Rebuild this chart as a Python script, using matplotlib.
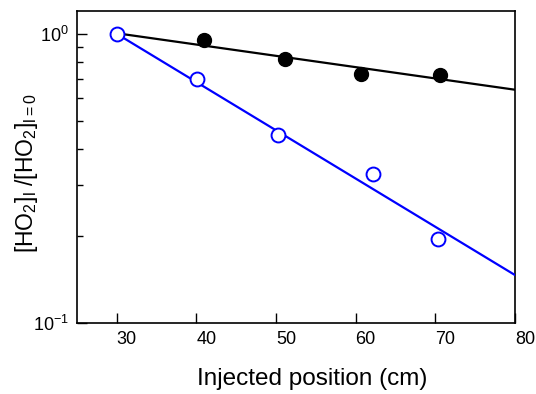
import matplotlib
matplotlib.use('Agg')
import matplotlib.pyplot as plt
import matplotlib.transforms as mtransforms
from matplotlib.ticker import LogLocator, FixedLocator
import numpy as np

plt.rcParams['font.family'] = ['Liberation Sans', 'DejaVu Sans']
plt.rcParams['mathtext.fontset'] = 'custom'
plt.rcParams['mathtext.rm'] = 'Liberation Sans'
plt.rcParams['mathtext.it'] = 'Liberation Sans:italic'

# filled points (black)
black_x = [40.9, 51.1, 60.6, 70.6]
black_y = [0.953, 0.820, 0.727, 0.723]

# open points (blue)
blue_x = [30.0, 40.1, 50.3, 62.2, 70.3]
blue_y = [1.0, 0.699, 0.446, 0.327, 0.196]

# fitted lines, end points
fit_x = [30, 80]
black_fit = [1.005, 0.641]
blue_fit = [1.0, 0.1465]

xticks = [30, 40, 50, 60, 70, 80]

fig = plt.figure(figsize=(5.36, 3.94), dpi=100)
ax = fig.add_axes([77/536, 1 - 323/394, (515 - 77)/536, (323 - 11)/394])

ax.plot(fit_x, black_fit, color='black', lw=1.6, zorder=2)
ax.plot(black_x, black_y, 'o', color='black', ms=10, zorder=3)
ax.plot(fit_x, blue_fit, color='#0000ff', lw=1.6, zorder=4)
ax.plot(blue_x, blue_y, 'o', mfc='white', mec='#0000ff', mew=1.4, ms=10, zorder=5)

ax.set_yscale('log')
ax.set_xlim(25, 80)
ax.set_ylim(0.1, 1.2)
ax.xaxis.set_major_locator(FixedLocator(xticks))
ax.yaxis.set_major_locator(LogLocator(base=10, numticks=5))
ax.yaxis.set_minor_locator(LogLocator(base=10, subs=np.arange(2, 10), numticks=10))
ax.yaxis.set_minor_formatter(plt.NullFormatter())

ax.tick_params(which='both', direction='in', top=False, right=False, labelsize=13, width=1.0)
ax.tick_params(which='major', length=7)
ax.tick_params(which='minor', length=4.5)
ax.tick_params(axis='x', pad=6)
ax.tick_params(axis='y', pad=6)

for s in ax.spines.values():
    s.set_linewidth(1.2)

# tick labels sit a bit right of their ticks in the original
shift = mtransforms.ScaledTranslation(10/100, 0, fig.dpi_scale_trans)
for lab in ax.get_xticklabels():
    lab.set_transform(lab.get_transform() + shift)

ax.set_xlabel('Injected position (cm)', fontsize=17.5)
ax.xaxis.set_label_coords((312 - 77)/438, -0.145)
ax.set_ylabel(r'[HO$_2$]$_\mathregular{l}$ /[HO$_2$]$_\mathregular{l=0}$', fontsize=16.5)
ax.yaxis.set_label_coords(-0.085, (323 - 173)/312)

fig.savefig('out.png', dpi=100)
